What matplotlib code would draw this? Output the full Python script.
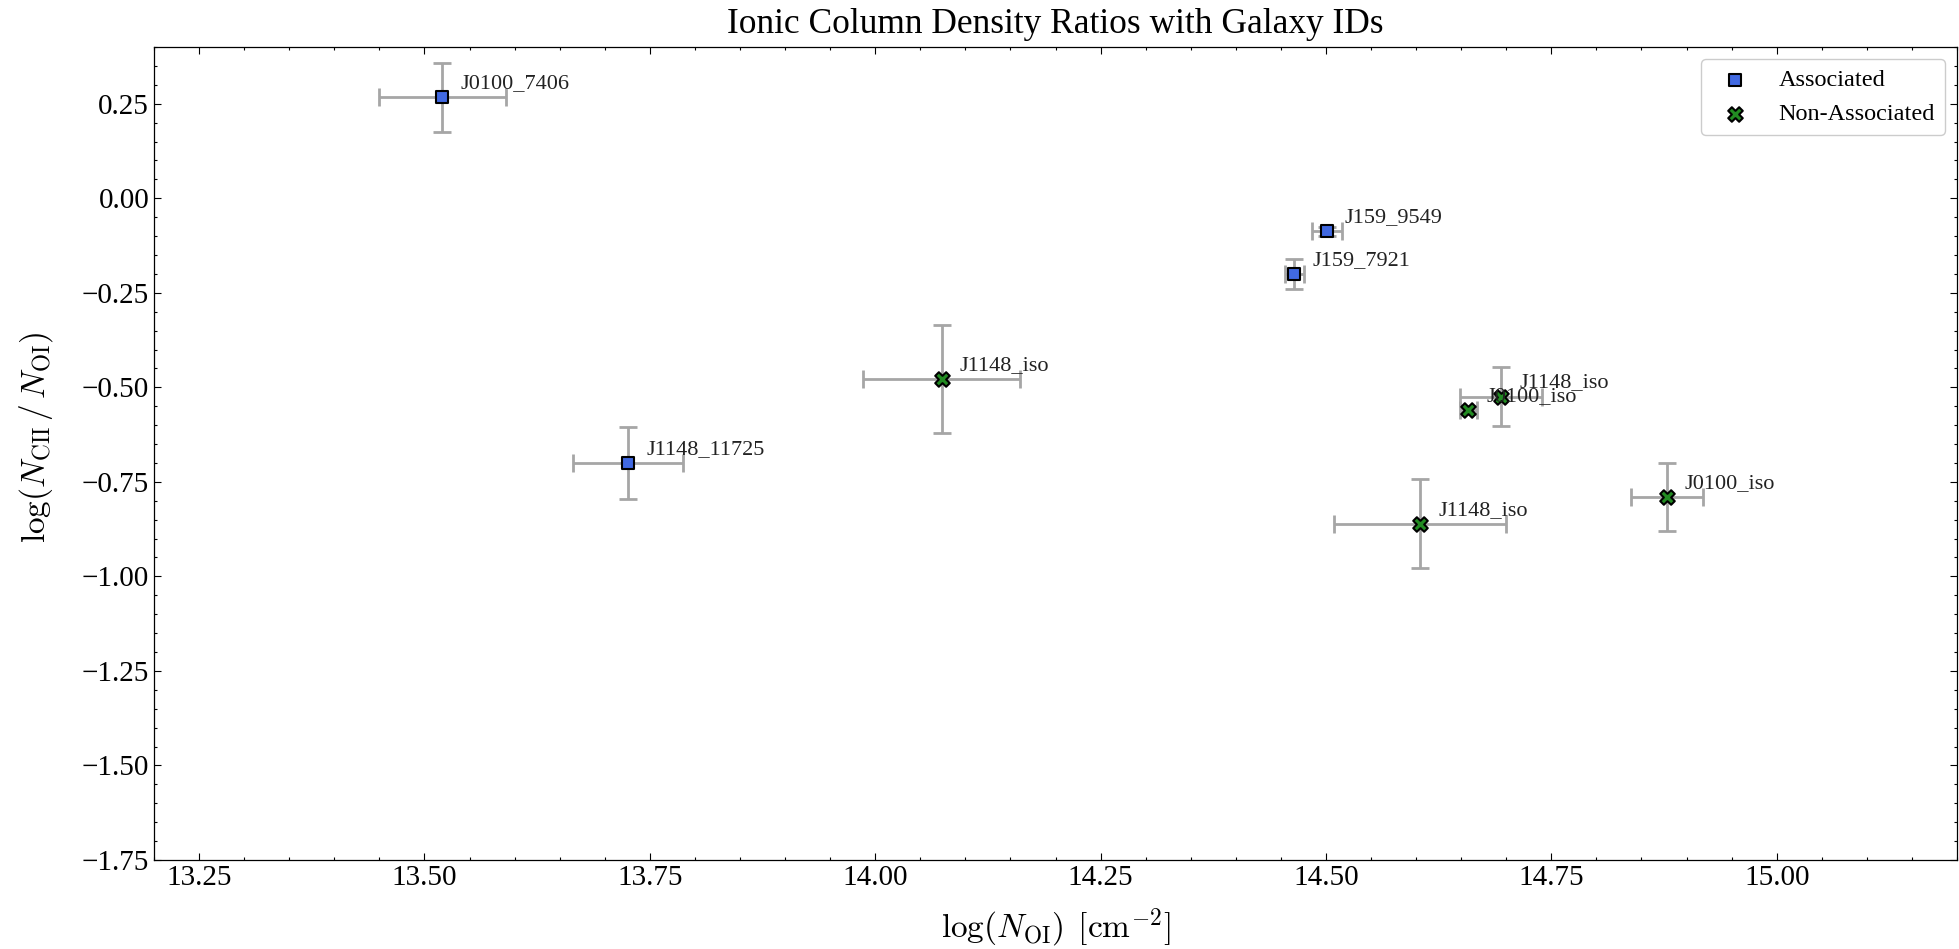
import matplotlib
matplotlib.use('Agg')
import matplotlib.pyplot as plt
from matplotlib.ticker import MultipleLocator

# Associated systems
assoc_names = ['J0100_7406', 'J1148_11725', 'J159_9549', 'J159_7921']
assoc_x = [13.520, 13.726, 14.501, 14.465]
assoc_y = [0.267, -0.700, -0.087, -0.201]
assoc_xerr = [0.070, 0.061, 0.017, 0.0105]
assoc_yerr = [0.092, 0.095, 0.012, 0.040]

# Non-associated systems
nonassoc_names = ['J1148_iso', 'J0100_iso', 'J1148_iso', 'J1148_iso', 'J0100_iso']
nonassoc_x = [14.074, 14.658, 14.6945, 14.6045, 14.878]
nonassoc_y = [-0.478, -0.560, -0.5245, -0.861, -0.790]
nonassoc_xerr = [0.087, 0.0093, 0.0455, 0.0956, 0.040]
nonassoc_yerr = [0.143, 0.010, 0.078, 0.118, 0.089]

plt.rcParams['font.family'] = ['Liberation Serif', 'DejaVu Serif']
plt.rcParams['mathtext.fontset'] = 'cm'

W, H = 1959, 949
fig = plt.figure(figsize=(W / 100, H / 100), dpi=100)
ax = fig.add_axes([154 / W, 1 - 860 / H, (1957 - 154) / W, (860 - 47) / H])

ecol = '#a6a6a6'
ax.errorbar(assoc_x, assoc_y, xerr=assoc_xerr, yerr=assoc_yerr, fmt='none',
            ecolor=ecol, elinewidth=2, capsize=6.5, capthick=2, zorder=1)
ax.errorbar(nonassoc_x, nonassoc_y, xerr=nonassoc_xerr, yerr=nonassoc_yerr, fmt='none',
            ecolor=ecol, elinewidth=2, capsize=6.5, capthick=2, zorder=1)

ax.scatter(assoc_x, assoc_y, marker='s', s=80, c='royalblue', edgecolors='black',
           linewidths=1.5, label='Associated', zorder=3)
ax.scatter(nonassoc_x, nonassoc_y, marker='X', s=110, c='forestgreen', edgecolors='black',
           linewidths=1.5, label='Non-Associated', zorder=3)

for n, x, y in zip(assoc_names, assoc_x, assoc_y):
    ax.annotate(n, (x, y), xytext=(13, 6.5), textcoords='offset points',
                fontsize=16, color='#222222')
for n, x, y in zip(nonassoc_names, nonassoc_x, nonassoc_y):
    ax.annotate(n, (x, y), xytext=(13, 6.5), textcoords='offset points',
                fontsize=16, color='#222222')

ax.set_xlim(13.2, 15.2)
ax.set_ylim(-1.75, 0.4)
ax.xaxis.set_major_locator(MultipleLocator(0.25))
ax.xaxis.set_minor_locator(MultipleLocator(0.05))
ax.yaxis.set_major_locator(MultipleLocator(0.25))
ax.yaxis.set_minor_locator(MultipleLocator(0.05))
ax.tick_params(which='both', direction='in', top=True, right=True, width=0.8,
               labelsize=21)
ax.tick_params(which='major', length=4.8)
ax.tick_params(which='minor', length=2.4)
for s in ax.spines.values():
    s.set_linewidth(0.9)

ax.set_xlabel(r'$\log(N_{\rm OI})\;\,[{\rm cm}^{-2}]$', fontsize=24)
ax.set_ylabel(r'$\log(N_{\rm CII}\,/\,N_{\rm OI})$', fontsize=24)
ax.xaxis.set_label_coords(0.5, -0.058)
ax.yaxis.set_label_coords(-0.055, 0.52)
ax.set_title('Ionic Column Density Ratios with Galaxy IDs', fontsize=25.5, pad=10)

ax.legend(loc='upper right', fontsize=17.5, frameon=True, fancybox=True,
          edgecolor='#cccccc', framealpha=1.0)

fig.savefig('out.png', dpi=100)
